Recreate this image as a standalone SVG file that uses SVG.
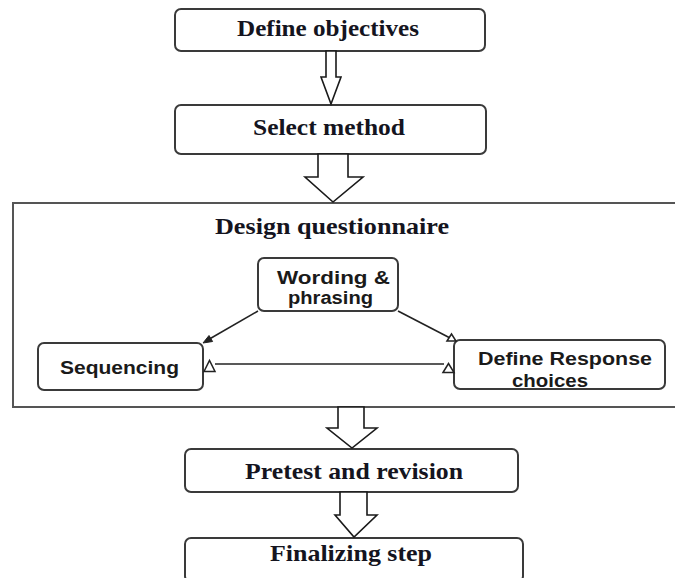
<svg xmlns="http://www.w3.org/2000/svg" width="675" height="578" viewBox="0 0 675 578">
<style>
.box{fill:#fff;stroke:#3a3a3a;stroke-width:2}
.outer{fill:#fff;stroke:#555;stroke-width:2}
.blk{fill:#fff;stroke:#1a1a1a;stroke-width:1.6;stroke-linejoin:miter}
.ln{fill:none;stroke:#222;stroke-width:1.6}
.tri{fill:#fff;stroke:#222;stroke-width:1.5}
.ser{font-family:"Liberation Serif","Times New Roman",serif;font-weight:bold;font-size:22.5px;fill:#141420}
.san{font-family:"Liberation Sans",Arial,sans-serif;font-weight:bold;font-size:17.5px;fill:#1a1a1a}
</style>
<rect width="675" height="578" fill="#fff"/>
<g id="design">
<rect class="outer" x="13" y="203" width="672" height="204"/>
<text class="ser" x="215" y="234" textLength="234" lengthAdjust="spacingAndGlyphs">Design questionnaire</text>
</g>
<g id="define-objectives">
<rect class="box" x="175" y="9" width="310" height="42" rx="6"/>
<text class="ser" x="237" y="36" textLength="182" lengthAdjust="spacingAndGlyphs">Define objectives</text>
</g>
<g id="select-method">
<rect class="box" x="175" y="105" width="311" height="49" rx="6"/>
<text class="ser" x="253" y="135" textLength="152" lengthAdjust="spacingAndGlyphs">Select method</text>
</g>
<g id="wording">
<rect class="box" x="258" y="258" width="140" height="53" rx="6"/>
<text class="san" x="277" y="284" textLength="113" lengthAdjust="spacingAndGlyphs">Wording &amp;</text>
<text class="san" x="288" y="304" textLength="85" lengthAdjust="spacingAndGlyphs">phrasing</text>
</g>
<g id="sequencing">
<rect class="box" x="38" y="343" width="165" height="47" rx="6"/>
<text class="san" x="60" y="374" textLength="119" lengthAdjust="spacingAndGlyphs">Sequencing</text>
</g>
<g id="response">
<rect class="box" x="454" y="340" width="211" height="49" rx="6"/>
<text class="san" x="478" y="365" textLength="174" lengthAdjust="spacingAndGlyphs">Define Response</text>
<text class="san" x="512" y="387" textLength="76" lengthAdjust="spacingAndGlyphs">choices</text>
</g>
<g id="pretest">
<rect class="box" x="185" y="449" width="333" height="43" rx="6"/>
<text class="ser" x="245" y="479" textLength="218" lengthAdjust="spacingAndGlyphs">Pretest and revision</text>
</g>
<g id="finalizing">
<rect class="box" x="185" y="538" width="338" height="44" rx="6"/>
<text class="ser" x="270" y="561" textLength="162" lengthAdjust="spacingAndGlyphs">Finalizing step</text>
</g>
<g id="connectors">
<polygon class="blk" points="326,51 336,51 336,77 341,77 331,104 321,77 326,77"/>
<polygon class="blk" points="318,154 348,154 348,177 363,177 333,202 305,177 318,177"/>
<polygon class="blk" points="338,407 364,407 364,428 377,428 352,448 327,428 338,428"/>
<polygon class="blk" points="340,492 367,492 367,515 377,515 354,537 335,515 340,515"/>
<line class="ln" x1="258" y1="311" x2="206" y2="341"/>
<polygon points="203,343 212.6,341.5 209,335.5" fill="#222" stroke="#222" stroke-width="1"/>
<line class="ln" x1="398" y1="311" x2="452" y2="339"/>
<polygon class="tri" points="447,341 451.5,334 456,341"/>
<line class="ln" x1="215" y1="364" x2="444" y2="364"/>
<polygon class="tri" points="204,371.5 209.5,360.5 215,371.5"/>
<polygon class="tri" points="443,372.5 448.5,363.5 454,372.5"/>
</g>
</svg>
